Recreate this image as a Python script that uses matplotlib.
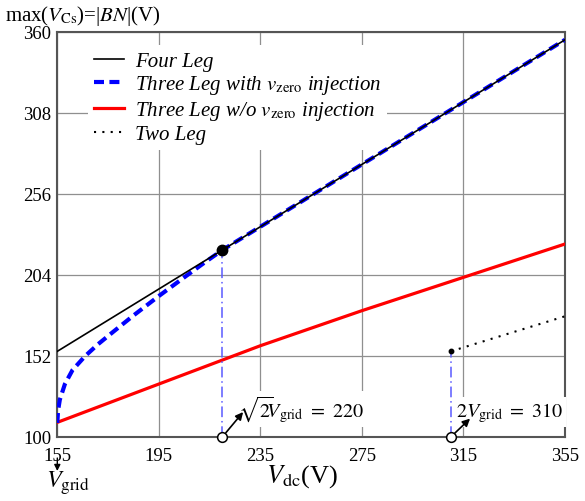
import matplotlib
matplotlib.use('Agg')
import matplotlib.pyplot as plt
from matplotlib.lines import Line2D

# ---------------- data ----------------
vdc_four = [155, 195, 235, 275, 315, 355]
four_leg = [155, 195, 235, 275, 315, 355]

vdc_zero = [155, 155.3, 156, 158, 161, 166, 171, 177, 185, 195, 205, 212, 220, 260, 300, 355]
three_zero = [109, 117, 124, 134, 143, 152, 159.5, 167.5, 178, 190.5, 202.5, 210.8, 220, 260, 300, 355]

vdc_nozero = [155, 195, 235, 275, 315, 355]
three_nozero = [109.4, 134.0, 158.6, 181.1, 202.5, 223.9]

vdc_two = [310, 355]
two_leg = [155, 177.5]

special_x = [220, 310]
special_y = [220, 155]

xticks = [155, 195, 235, 275, 315, 355]
yticks = [100, 152, 204, 256, 308, 360]

labels = ["Four Leg",
          r"Three Leg with $v_{\mathrm{zero}}$ injection",
          r"Three Leg w/o $v_{\mathrm{zero}}$ injection",
          "Two Leg"]

# ---------------- style ----------------
plt.rcParams['font.family'] = ['Liberation Serif', 'DejaVu Serif']
plt.rcParams['mathtext.fontset'] = 'stix'

W, H = 585, 502
fig = plt.figure(figsize=(W / 100, H / 100), dpi=100)
L, R, T, B = 57.3, 565, 33, 438
ax = fig.add_axes([L / W, 1 - B / H, (R - L) / W, (B - T) / H])

ax.set_xlim(155, 355)
ax.set_ylim(100, 360)
ax.set_xticks(xticks)
ax.set_yticks(yticks)
ax.tick_params(length=0, labelsize=13.5)
ax.tick_params(axis='x', pad=7)
ax.tick_params(axis='y', pad=4.5)
ax.grid(True, color='#8f8f8f', lw=0.9)
ax.set_axisbelow(True)
for s in ax.spines.values():
    s.set_color('#555555')
    s.set_linewidth(1.5)

# curves
ax.plot(vdc_nozero, three_nozero, color='#ff0000', lw=2.3, zorder=3)
ax.plot(vdc_zero, three_zero, color='#0000ff', lw=3.0, dashes=(2.4, 1.3),
        dash_capstyle='butt', zorder=4)
ax.plot(vdc_four, four_leg, color='black', lw=1.2, zorder=5)
ax.plot(vdc_two, two_leg, color='black', lw=1.5, dashes=(1, 3), zorder=5)

# vertical dash-dot lines
for xv, yv in zip(special_x, special_y):
    ax.plot([xv, xv], [100, yv], color='#5a5aff', lw=1.1,
            dashes=(7, 2.5, 1, 2.5), zorder=4)

# markers
ax.plot([special_x[0]], [special_y[0]], 'o', color='black', ms=7.5, zorder=6)
ax.plot([special_x[1]], [special_y[1]], 'o', color='black', ms=3.2, zorder=6)
ax.plot(special_x, [100, 100], 'o', mfc='white', mec='black', mew=1.1,
        ms=7, zorder=8, clip_on=False)

# annotations
ax.annotate('', xy=(228.2, 116), xytext=(special_x[0], 100),
            arrowprops=dict(arrowstyle='-|>', color='black', lw=1.2,
                            mutation_scale=11, shrinkA=4, shrinkB=0),
            zorder=9, annotation_clip=False)
ax.annotate('', xy=(317.6, 111.8), xytext=(special_x[1], 100),
            arrowprops=dict(arrowstyle='-|>', color='black', lw=1.2,
                            mutation_scale=11, shrinkA=4, shrinkB=0),
            zorder=9, annotation_clip=False)
ax.text(226.0, 113.3, r"$\sqrt{2}\!\!V_{\mathrm{grid}}\ =\ 220$", fontsize=14.5,
        ha='left', va='baseline', zorder=7,
        bbox=dict(facecolor='white', edgecolor='none', pad=2))
ax.text(312.0, 113.3, r"$2V_{\mathrm{grid}}\ =\ 310$", fontsize=14.5,
        ha='left', va='baseline', zorder=7,
        bbox=dict(facecolor='white', edgecolor='none', pad=2))

# legend
handles = [Line2D([], [], color='black', lw=1.2),
           Line2D([], [], color='#0000ff', lw=3.0, dashes=(2.4, 1.3)),
           Line2D([], [], color='#ff0000', lw=2.3),
           Line2D([], [], color='black', lw=1.5, dashes=(1, 3))]
leg = ax.legend(handles, labels, loc='upper left',
                bbox_to_anchor=((88 - L) / (R - L), 1 - (46 - T) / (B - T)),
                borderaxespad=0, frameon=True, fancybox=False,
                prop=dict(family='Liberation Serif', style='italic', size=15),
                handlelength=1.45, handletextpad=0.5, labelspacing=0.12,
                borderpad=0.3)
leg.get_frame().set_facecolor('white')
leg.get_frame().set_edgecolor('none')
leg.get_frame().set_alpha(1)
leg.set_zorder(2.5)

# figure texts
fig.text(5 / W, 1 - 16 / H, r"max($V_{\mathrm{Cs}}$)=|$BN$|(V)", fontsize=15,
         ha='left', va='center')
fig.text(302 / W, 1 - 477 / H, r"$V_{\mathrm{dc}}$(V)", fontsize=19,
         ha='center', va='center')
fig.text(68 / W, 1 - 483 / H, r"$V_{\mathrm{grid}}$", fontsize=17.5,
         ha='center', va='center')
ax.annotate('', xy=(57.3, H - 472), xycoords='figure pixels',
            xytext=(57.3, H - 459), textcoords='figure pixels',
            arrowprops=dict(arrowstyle='-|>', color='black', lw=1.0,
                            mutation_scale=9, shrinkA=0, shrinkB=0),
            annotation_clip=False)

fig.savefig('out.png', dpi=100)
